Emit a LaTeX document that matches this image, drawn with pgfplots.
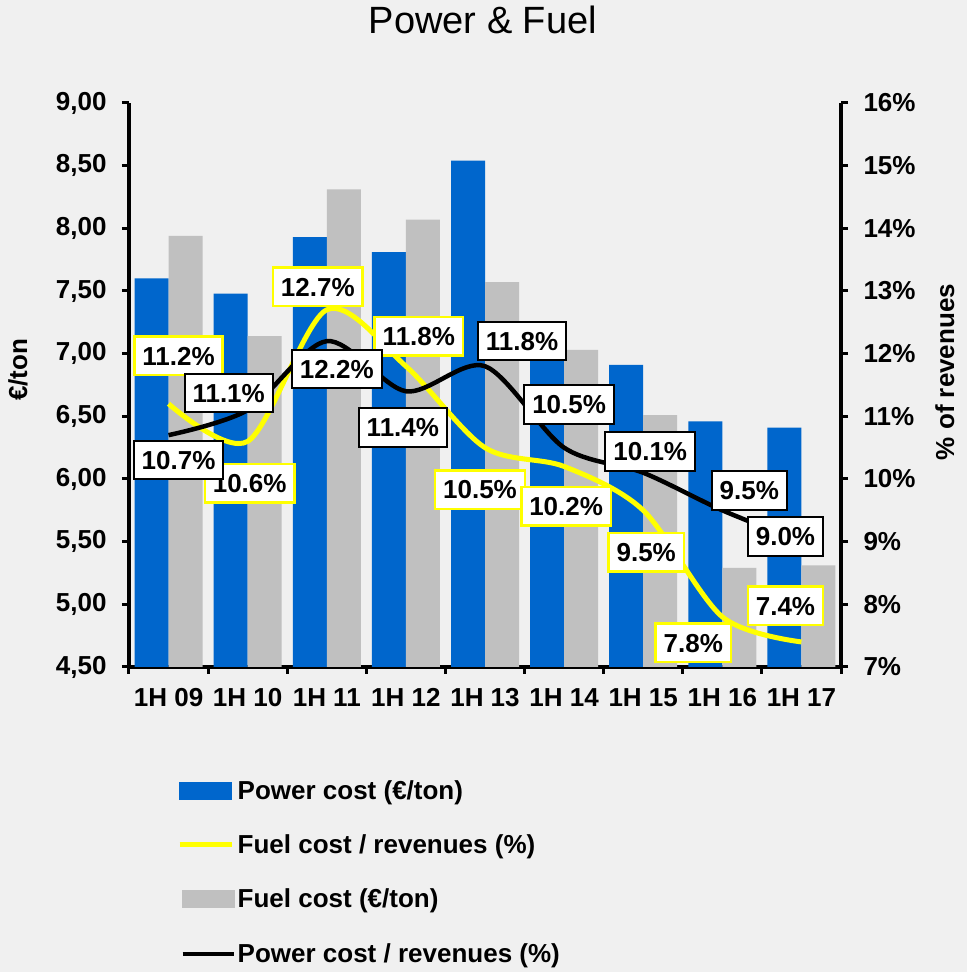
\documentclass[border=0pt]{standalone}
\usepackage{fontspec}
\setmainfont{Liberation Sans}
\usepackage{pgfplots}
\pgfplotsset{compat=1.18}
\definecolor{bg}{HTML}{F0F0F0}
\definecolor{pblue}{HTML}{0066CC}
\definecolor{fgray}{HTML}{C0C0C0}
\definecolor{fyellow}{HTML}{FFFF00}
\newcommand{\bsz}{\bfseries\fontsize{26}{30}\selectfont}
\tikzset{lblbox/.style={anchor=center, fill=white, line width=2.5pt, inner xsep=8pt, inner ysep=10pt,
    text height=18.5pt, text depth=0pt, font=\bsz, text=black}}

\pgfplotstableread{
x y lab dx dy
0 11.2 11.2 10 48
1 10.6 10.6 2 -42
2 12.7 12.7 -9 23
3 11.8 11.8 13 30
4 10.5 10.5 -5 -42
5 10.2 10.2 2 -40
6 9.5 9.5 3 -42
7 7.8 7.8 -29 -26
8 7.4 7.4 -16 36
}\fueltab
\pgfplotstableread{
x y lab dx dy
0 10.7 10.7 10 -25
1 11.1 11.1 -19 17
2 12.2 12.2 10 -28
3 11.4 11.4 -3 -36
4 11.8 11.8 37 25
5 10.5 10.5 5 43
6 10.1 10.1 7 21
7 9.5 9.5 27 20
8 9.0 9.0 -16 5
}\powtab

\begin{document}
\begin{tikzpicture}
\fill[bg] (0,0) rectangle (967pt,972pt);
\begin{axis}[
  at={(129pt,305pt)}, anchor=south west,
  scale only axis, width=712pt, height=564pt,
  xmin=-0.5, xmax=8.5, ymin=4.5, ymax=9,
  axis x line*=bottom, axis y line*=left,
  axis line style={line width=4pt, -},
  tick align=outside, major tick length=7pt,
  tick style={line width=3pt, black},
  ytick={4.5,5.0,5.5,6.0,6.5,7.0,7.5,8.0,8.5,9.0},
  /pgf/number format/assume math mode=true,
  yticklabel style={xshift=-12pt, /pgf/number format/.cd, fixed, fixed zerofill, precision=2, use comma},
  xtick={-0.5,0.5,1.5,2.5,3.5,4.5,5.5,6.5,7.5,8.5},
  xticklabels={},
  extra x ticks={0,1,2,3,4,5,6,7,8},
  extra x tick labels={1H 09,1H 10,1H 11,1H 12,1H 13,1H 14,1H 15,1H 16,1H 17},
  extra x tick style={major tick length=0pt, xticklabel style={yshift=-18pt}},
  tick label style={font=\bsz},
  ylabel={€/ton},
  every axis y label/.style={at={(axis description cs:-0.156,0.527)}, rotate=90, anchor=center, font=\bsz},
  title={Power \& Fuel},
  title style={at={(axis description cs:0.497,1.137)}, anchor=center, font=\fontsize{38}{42}\selectfont},
]
\addplot[ybar, bar width=34pt, bar shift=-17pt, fill=pblue, draw=none] coordinates {
(0,7.60) (1,7.48) (2,7.93) (3,7.81) (4,8.54) (5,6.94) (6,6.91) (7,6.46) (8,6.41)};
\addplot[ybar, bar width=34pt, bar shift=17pt, fill=fgray, draw=none] coordinates {
(0,7.94) (1,7.14) (2,8.31) (3,8.07) (4,7.57) (5,7.03) (6,6.51) (7,5.29) (8,5.31)};
\end{axis}
\begin{axis}[
  at={(129pt,305pt)}, anchor=south west,
  scale only axis, width=712pt, height=564pt,
  xmin=-0.5, xmax=8.5, ymin=7, ymax=16,
  axis x line=none, axis y line*=right,
  axis line style={line width=4pt, -},
  tick align=outside, major tick length=7pt,
  tick style={line width=3pt, black},
  ytick={7,8,9,10,11,12,13,14,15,16},
  yticklabels={7\%,8\%,9\%,10\%,11\%,12\%,13\%,14\%,15\%,16\%},
  yticklabel style={xshift=12pt},
  tick label style={font=\bsz},
  ylabel={\% of revenues},
  every axis y label/.style={at={(axis description cs:1.146,0.523)}, rotate=90, anchor=center, font=\bsz},
  clip=false,
  legend cell align=left,
  legend style={at={(axis description cs:0.0674,-0.197)}, anchor=north west, draw=none, fill=none,
    font=\bsz, row sep=30pt, inner sep=0pt,
    /tikz/every odd column/.append style={column sep=0pt}},
]
\addplot[smooth, tension=0.5, color=fyellow, line width=5pt, forget plot] table[x=x,y=y] {\fueltab};
\addplot[smooth, tension=0.5, color=black, line width=4.5pt, forget plot] table[x=x,y=y] {\powtab};
\addplot[draw=none, forget plot, point meta=explicit symbolic,
  visualization depends on={\thisrow{dx} \as \dx},
  visualization depends on={\thisrow{dy} \as \dy},
  nodes near coords={\pgfplotspointmeta\%},
  nodes near coords style={lblbox, draw=fyellow, xshift=\dx pt, yshift=\dy pt}]
  table[x=x,y=y,meta=lab] {\fueltab};
\addplot[draw=none, forget plot, point meta=explicit symbolic,
  visualization depends on={\thisrow{dx} \as \dx},
  visualization depends on={\thisrow{dy} \as \dy},
  nodes near coords={\pgfplotspointmeta\%},
  nodes near coords style={lblbox, draw=black, line width=2pt, xshift=\dx pt, yshift=\dy pt}]
  table[x=x,y=y,meta=lab] {\powtab};
\addlegendimage{legend image code/.code={\fill[pblue] (0pt,-8.5pt) rectangle (52pt,8.5pt);}}
\addlegendentry{Power cost (€/ton)}
\addlegendimage{legend image code/.code={\draw[fyellow, line width=5pt] (0pt,0pt) -- (52pt,0pt);}}
\addlegendentry{Fuel cost / revenues (\%)}
\addlegendimage{legend image code/.code={\fill[fgray] (3pt,-8.5pt) rectangle (55pt,8.5pt);}}
\addlegendentry{Fuel cost (€/ton)}
\addlegendimage{legend image code/.code={\draw[black, line width=4pt] (3pt,0pt) -- (54pt,0pt);}}
\addlegendentry{Power cost / revenues (\%)}
\end{axis}
\pgfresetboundingbox
\useasboundingbox (0,0) rectangle (967pt,972pt);
\end{tikzpicture}
\end{document}
